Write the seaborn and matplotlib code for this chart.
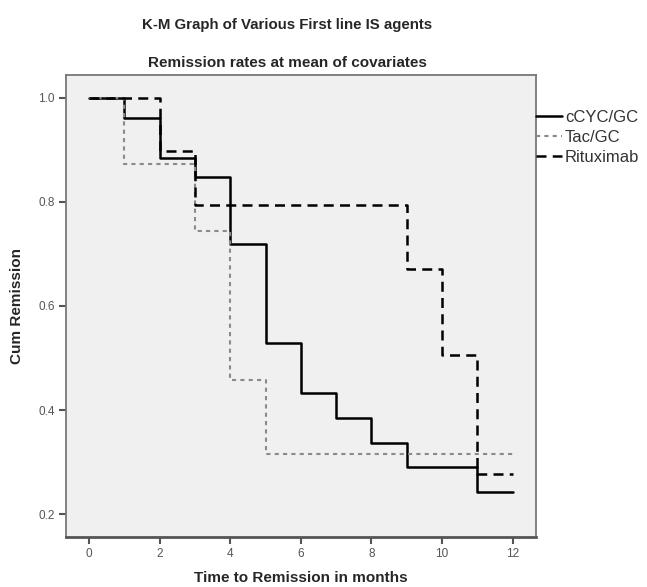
import matplotlib
matplotlib.use("Agg")
import matplotlib.pyplot as plt
import seaborn as sns
import pandas as pd

# --- data ---
groups = ["cCYC/GC", "Tac/GC", "Rituximab"]
cyc_time = [0, 1, 2, 3, 4, 5, 6, 7, 8, 9, 11, 12]
cyc_surv = [1.0, 0.961, 0.884, 0.848, 0.718, 0.528, 0.432, 0.384, 0.337, 0.291, 0.243, 0.243]
tac_time = [0, 1, 3, 4, 5, 12]
tac_surv = [1.0, 0.873, 0.743, 0.458, 0.315, 0.315]
rit_time = [0, 2, 3, 9, 10, 11, 12]
rit_surv = [1.0, 0.897, 0.793, 0.670, 0.506, 0.278, 0.278]
x_ticks = [0, 2, 4, 6, 8, 10, 12]
y_ticks = [0.2, 0.4, 0.6, 0.8, 1.0]

title = "K-M Graph of Various First line IS agents"
subtitle = "Remission rates at mean of covariates"
x_label = "Time to Remission in months"
y_label = "Cum Remission"

sns.set_style("white")
plt.rcParams["font.family"] = ["Liberation Sans", "DejaVu Sans"]

fig = plt.figure(figsize=(6.47, 5.87), dpi=100)
ax = fig.add_axes([0.102, 0.085, 0.726, 0.787])
ax.set_facecolor("#f0f0f0")

series = [
    (groups[0], cyc_time, cyc_surv, dict(color="black", linewidth=1.8, linestyle="-")),
    (groups[1], tac_time, tac_surv, dict(color="#8a8a8a", linewidth=1.5, linestyle=(0, (2, 2)))),
    (groups[2], rit_time, rit_surv, dict(color="black", linewidth=1.8, linestyle=(0, (4, 2.5)))),
]
for name, t, s, st in series:
    df = pd.DataFrame({"time": t, "surv": s})
    sns.lineplot(data=df, x="time", y="surv", ax=ax, drawstyle="steps-post",
                 estimator=None, label=name, **st)

ax.set_xlim(-0.65, 12.65)
ax.set_ylim(0.156, 1.043)
ax.set_xticks(x_ticks)
ax.set_xticklabels([str(v) for v in x_ticks])
ax.set_yticks(y_ticks)
ax.set_yticklabels([f"{v:.1f}" for v in y_ticks])
ax.tick_params(axis="both", direction="out", length=5, width=1.5, color="#555555",
               labelsize=8.5, labelcolor="#555555", bottom=True, left=True, pad=3)

for side in ["left", "top", "right"]:
    ax.spines[side].set_color("#777777")
    ax.spines[side].set_linewidth(1.3)
ax.spines["bottom"].set_color("#555555")
ax.spines["bottom"].set_linewidth(2)

ax.set_xlabel(x_label, fontsize=11, fontweight="bold", labelpad=8)
ax.set_ylabel(y_label, fontsize=11, fontweight="bold", labelpad=10)

fig.text(0.444, 0.957, title, ha="center", va="center", fontsize=10.8, fontweight="bold")
fig.text(0.444, 0.892, subtitle, ha="center", va="center", fontsize=11, fontweight="bold")

ax.legend(loc="upper left", bbox_to_anchor=(1.0, 0.925), frameon=False, fontsize=12,
          handlelength=1.6, handletextpad=0.15, labelspacing=0.3, borderaxespad=0,
          borderpad=0, labelcolor="#333333")

fig.savefig("out.png", dpi=100, facecolor="white")
